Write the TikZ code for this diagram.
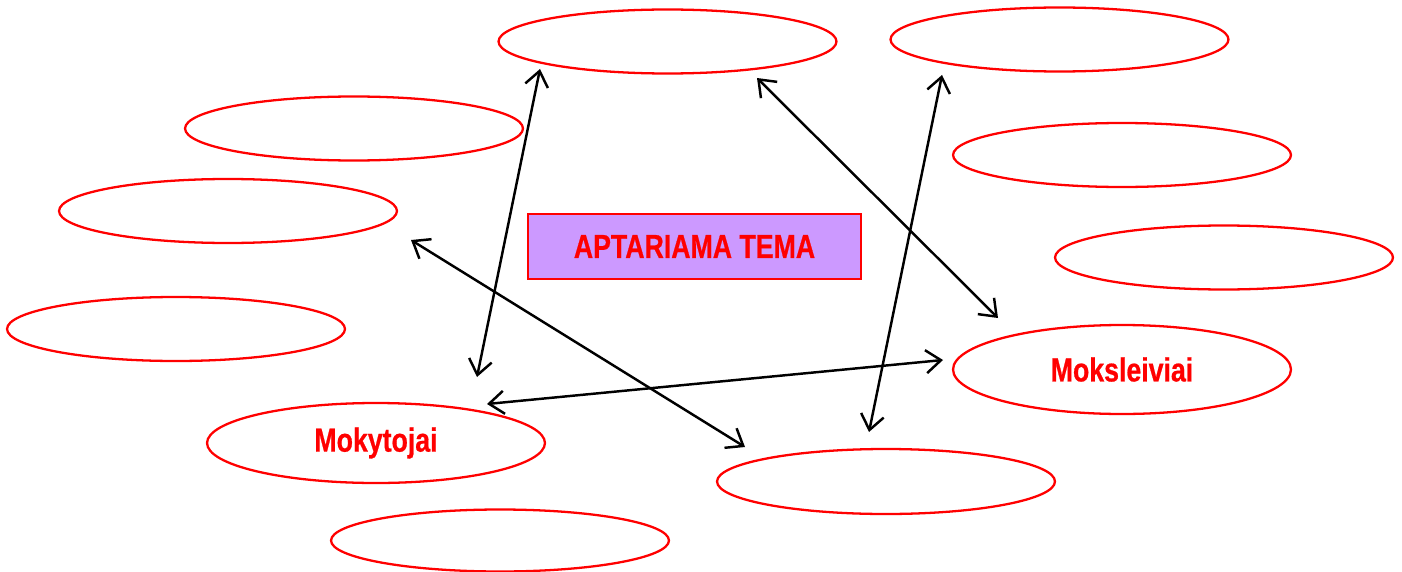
\documentclass[tikz,border=0pt]{standalone}
\usepackage{fontspec}
\setmainfont{Liberation Sans}
\newfontfamily\narrowfont[FakeStretch=0.8,FakeBold=0.6]{Liberation Sans}
\usepackage{tikz}
\usetikzlibrary{shapes.geometric,arrows.meta}
\definecolor{topicviolet}{HTML}{CC99FF}
\tikzstyle{bubble} = [draw=red, ellipse, line width=1.3pt, minimum width=6.76cm, minimum height=1.28cm, inner sep=0pt, text=red, font=\narrowfont\bfseries\fontsize{19}{22}\selectfont]
\tikzstyle{topic} = [draw=red, fill=topicviolet, line width=1.3pt, minimum width=6.66cm, minimum height=1.3cm, text=red, font=\narrowfont\bfseries\fontsize{19}{22}\selectfont]
\tikzset{
  link/.style ={draw, line width=1.4pt, {Straight Barb[length=3mm,width=4.6mm]}-{Straight Barb[length=3mm,width=4.6mm]}}
}
\begin{document}
\begin{tikzpicture}[x=0.02cm,y=-0.02cm]
	\useasboundingbox (0,0) rectangle (1402,571);
	\node[bubble] (top) at (667.5,41.5) {};
	\node[bubble] (topright) at (1059.5,39.5) {};
	\node[bubble] (left1) at (354,128.5) {};
	\node[bubble] (right1) at (1122,155) {};
	\node[bubble] (left2) at (228,211) {};
	\node[bubble] (right2) at (1224,257.5) {};
	\node[bubble] (left3) at (176,329) {};
	\node[bubble, minimum height=1.78cm] (pupils) at (1122,369.5) {Moksleiviai};
	\node[bubble, minimum height=1.6cm] (teachers) at (376,443) {\raisebox{-2pt}{Mokytojai}};
	\node[bubble, minimum height=1.3cm] (bottom) at (886,481.5) {};
	\node[bubble, minimum height=1.24cm] (bottomleft) at (500,540.5) {};
	\node[topic] (theme) at (694.5,246.5) {APTARIAMA TEMA};

	\coordinate (a1) at (540,69);
	\coordinate (a2) at (477,377);
	\coordinate (b1) at (757,78);
	\coordinate (b2) at (998,318);
	\coordinate (c1) at (942,75);
	\coordinate (c2) at (869,432);
	\coordinate (d1) at (411,240);
	\coordinate (d2) at (745,447);
	\coordinate (e1) at (487,404);
	\coordinate (e2) at (943,360);

	\draw [link] (a1) -- (a2);
	\draw [link] (b1) -- (b2);
	\draw [link] (c1) -- (c2);
	\draw [link] (d1) -- (d2);
	\draw [link] (e1) -- (e2);
\end{tikzpicture}
\end{document}
